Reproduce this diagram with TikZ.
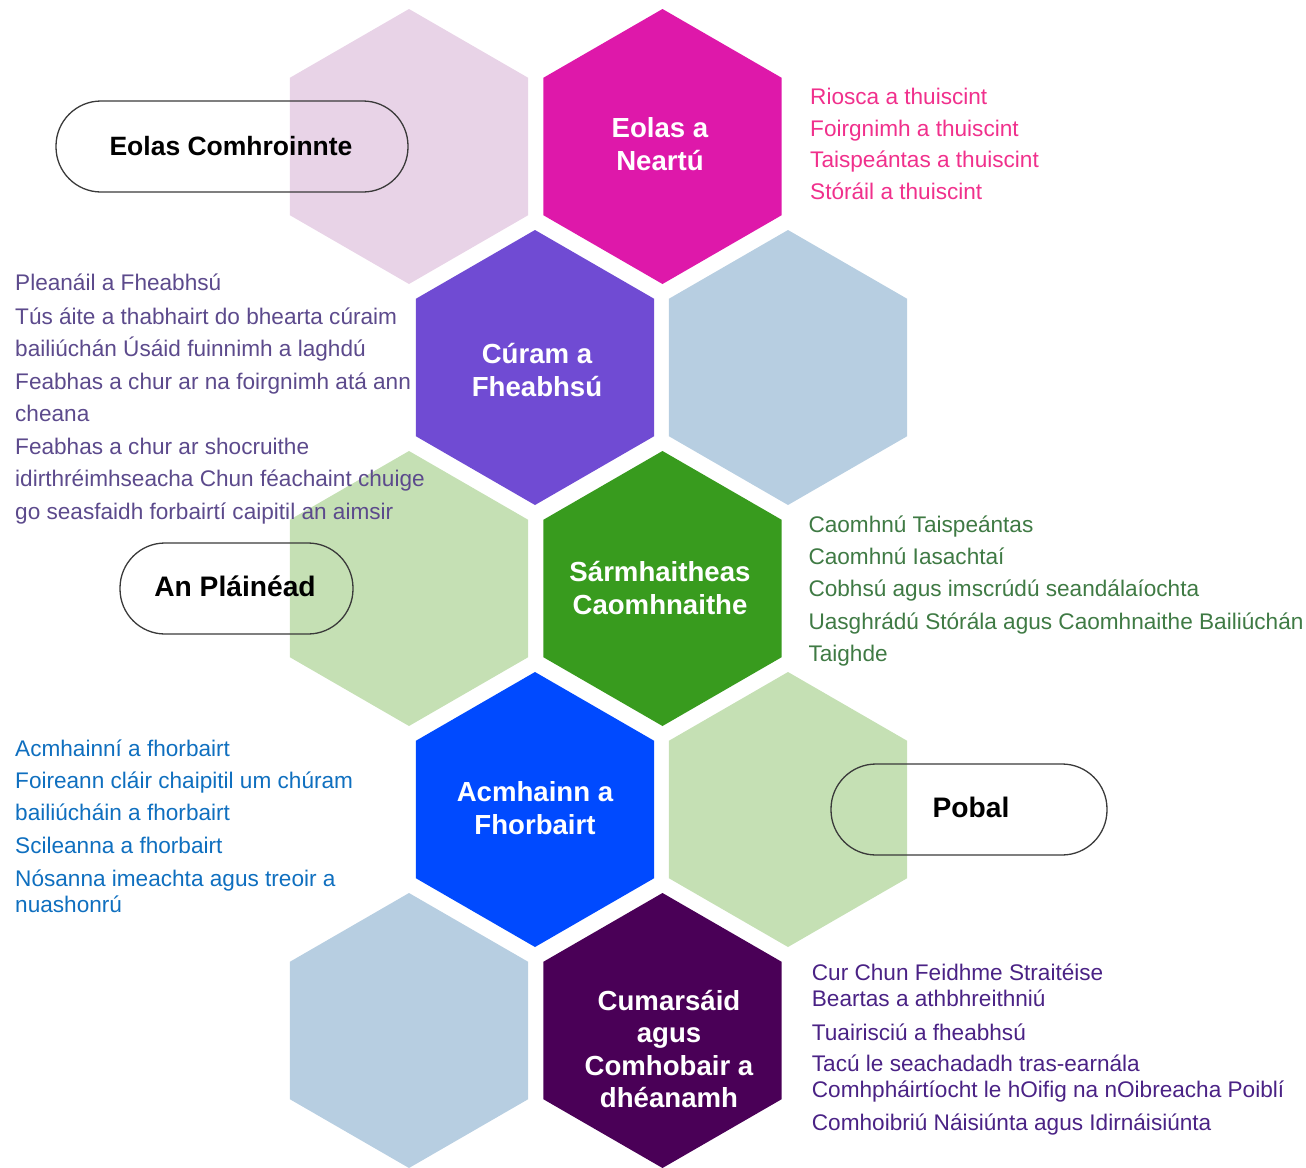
\documentclass[tikz,border=0pt]{standalone}
\usepackage{fontspec}
\setmainfont{Liberation Sans}
\usetikzlibrary{shapes.geometric}
\definecolor{hpalepink}{HTML}{E8D3E7}
\definecolor{hmagenta}{HTML}{DE18AA}
\definecolor{hpurple}{HTML}{704BD3}
\definecolor{hlightblue}{HTML}{B7CEE1}
\definecolor{hpalegreen}{HTML}{C5E0B4}
\definecolor{hgreen}{HTML}{389B1E}
\definecolor{hblue}{HTML}{004AFF}
\definecolor{hdarkpurple}{HTML}{4A0057}
\definecolor{tpink}{HTML}{F0308C}
\definecolor{tpurple}{HTML}{5C4A8C}
\definecolor{tgreen}{HTML}{3F7A44}
\definecolor{tblue}{HTML}{0F6FBF}
\definecolor{tdarkpurple}{HTML}{4A2285}
\definecolor{pillgray}{HTML}{3A3A3A}
\tikzset{
  hex/.style={regular polygon, regular polygon sides=6, shape border rotate=90,
    minimum size=275pt, inner sep=0pt, outer sep=0pt, draw=none, fill=#1},
  hexlabel/.style={align=center, text=white, inner sep=0pt,
    font=\bfseries\fontsize{27.6}{32.5}\selectfont},
  pill/.style={draw=pillgray, line width=1.3pt, rounded corners=45pt,
    minimum height=91pt, inner sep=0pt},
  pilltext/.style={text=black, inner sep=0pt, anchor=base,
    font=\bfseries\fontsize{#1}{30}\selectfont},
  item/.style={anchor=base west, inner sep=0pt, text=#1,
    font=\fontsize{22.6}{27}\selectfont}
}
\begin{document}
\begin{tikzpicture}[x=1pt,y=-1pt]
\useasboundingbox (0,0) rectangle (1306,1167);
% hexagons
\node[hex=hpalepink]   (h1)  at (409,146.5) {};
\node[hex=hmagenta]    (h2)  at (662.5,146.5) {};
\node[hex=hpurple]     (h3)  at (535,367.5) {};
\node[hex=hlightblue]  (h4)  at (788,367.5) {};
\node[hex=hpalegreen]  (h5)  at (409,588.5) {};
\node[hex=hgreen]      (h6)  at (662.5,588.5) {};
\node[hex=hblue]       (h7)  at (535,809.5) {};
\node[hex=hpalegreen]  (h8)  at (788,809.5) {};
\node[hex=hlightblue]  (h9)  at (409,1030.5) {};
\node[hex=hdarkpurple] (h10) at (662.5,1030.5) {};
% hexagon labels
\node[hexlabel] (l2)  at (660,144) {Eolas a\\Neartú};
\node[hexlabel] (l3)  at (537,370) {Cúram a\\Fheabhsú};
\node[hexlabel] (l6)  at (660,588) {Sármhaitheas\\Caomhnaithe};
\node[hexlabel] (l7)  at (535,808) {Acmhainn a\\Fhorbairt};
\node[hexlabel] (l10) at (669,1049) {Cumarsáid\\agus\\Comhobair a\\dhéanamh};
% pills
\node[pill, minimum width=352pt] (p1) at (232,146.5) {};
\node[pill, minimum width=233pt] (p2) at (236.5,588.5) {};
\node[pill, minimum width=276pt] (p3) at (969,809.5) {};
\node[pilltext=26.5] (t1) at (231,155.5) {Eolas Comhroinnte};
\node[pilltext=28.2] (t2) at (235,596.5) {An Pláinéad};
\node[pilltext=28.2] (t3) at (971,817.5) {Pobal};
% pink list
\node[item=tpink] (a1) at (810,104.3) {Riosca a thuiscint};
\node[item=tpink] (a2) at (810,136) {Foirgnimh a thuiscint};
\node[item=tpink] (a3) at (810,167.5) {Taispeántas a thuiscint};
\node[item=tpink] (a4) at (810,199.5) {Stóráil a thuiscint};
% purple list
\node[item=tpurple] (b1) at (15,290.7) {Pleanáil a Fheabhsú};
\node[item=tpurple] (b2) at (15,324) {Tús áite a thabhairt do bhearta cúraim};
\node[item=tpurple] (b3) at (15,356.7) {bailiúchán Úsáid fuinnimh a laghdú};
\node[item=tpurple] (b4) at (15,389.3) {Feabhas a chur ar na foirgnimh atá ann};
\node[item=tpurple] (b5) at (15,421.7) {cheana};
\node[item=tpurple] (b6) at (15,454) {Feabhas a chur ar shocruithe};
\node[item=tpurple] (b7) at (15,486.7) {idirthréimhseacha Chun féachaint chuige};
\node[item=tpurple] (b8) at (15,519.3) {go seasfaidh forbairtí caipitil an aimsir};
% green list
\node[item=tgreen] (c1) at (808.3,532.3) {Caomhnú Taispeántas};
\node[item=tgreen] (c2) at (808.3,564.3) {Caomhnú Iasachtaí};
\node[item=tgreen] (c3) at (808.3,596.7) {Cobhsú agus imscrúdú seandálaíochta};
\node[item=tgreen] (c4) at (808.3,629) {Uasghrádú Stórála agus Caomhnaithe Bailiúchán};
\node[item=tgreen] (c5) at (808.3,661) {Taighde};
% blue list
\node[item=tblue] (d1) at (15,756) {Acmhainní a fhorbairt};
\node[item=tblue] (d2) at (15,788.3) {Foireann cláir chaipitil um chúram};
\node[item=tblue] (d3) at (15,820) {bailiúcháin a fhorbairt};
\node[item=tblue] (d4) at (15,853.3) {Scileanna a fhorbairt};
\node[item=tblue] (d5) at (15,886.7) {Nósanna imeachta agus treoir a};
\node[item=tblue] (d6) at (15,912.3) {nuashonrú};
% dark purple list
\node[item=tdarkpurple] (e1) at (811.7,980.7) {Cur Chun Feidhme Straitéise};
\node[item=tdarkpurple] (e2) at (811.7,1006.7) {Beartas a athbhreithniú};
\node[item=tdarkpurple] (e3) at (811.7,1040) {Tuairisciú a fheabhsú};
\node[item=tdarkpurple] (e4) at (811.7,1071.7) {Tacú le seachadadh tras-earnála};
\node[item=tdarkpurple] (e5) at (811.7,1097.7) {Comhpháirtíocht le hOifig na nOibreacha Poiblí};
\node[item=tdarkpurple] (e6) at (811.7,1130) {Comhoibriú Náisiúnta agus Idirnáisiúnta};
\end{tikzpicture}
\end{document}
